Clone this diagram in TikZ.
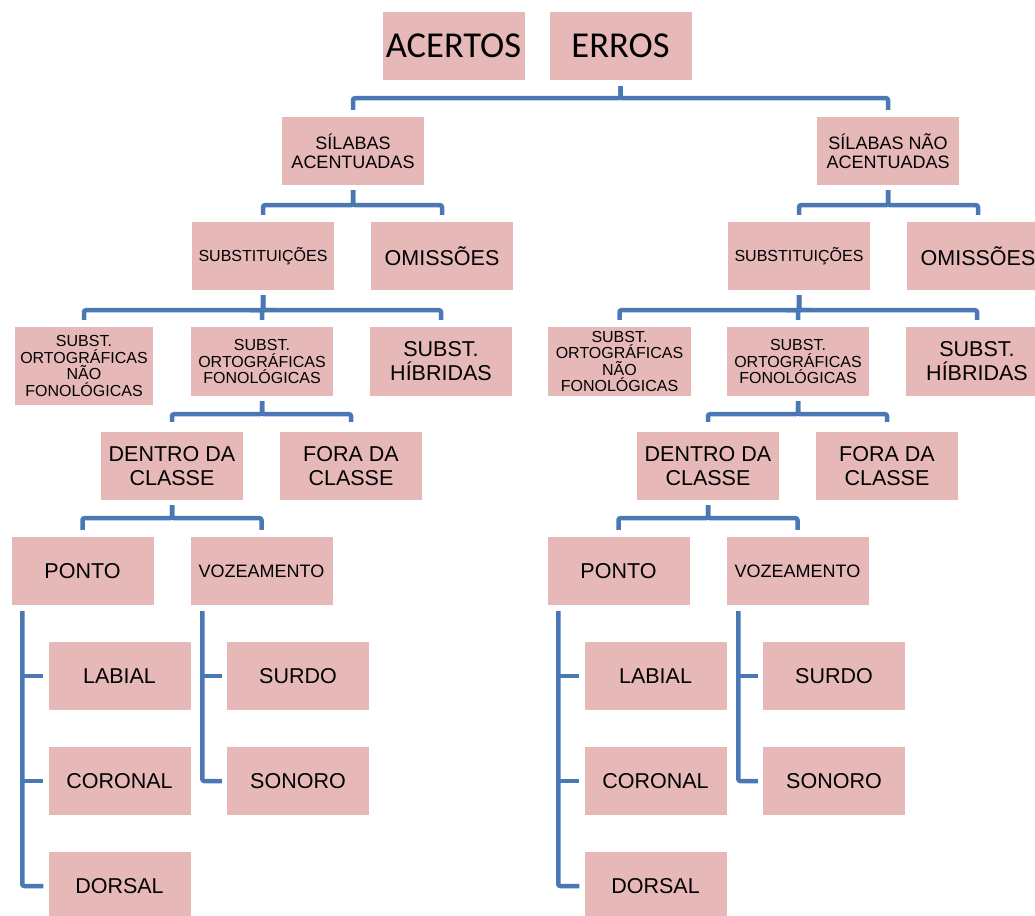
\documentclass[tikz,border=0pt]{standalone}
\usepackage{fontspec}
\setmainfont{Liberation Sans}
\newfontfamily\calibrifont{Carlito}
\usetikzlibrary{positioning,calc}
\definecolor{boxpink}{HTML}{E6B9B8}
\definecolor{busblue}{HTML}{4A78B4}

\begin{document}
\begin{tikzpicture}[
    x=1pt, y=-1pt,
    box/.style={
        fill=boxpink,
        draw=none,
        inner sep=0pt,
        minimum width=142pt,
        minimum height=68pt,
        align=center
    },
    hugetext/.style={font=\calibrifont\fontsize{36.5}{40}\selectfont},
    bigtext/.style={font=\fontsize{21.5}{24}\selectfont},
    midtext/.style={font=\fontsize{18}{19}\selectfont},
    smalltext/.style={font=\fontsize{16}{16.6}\selectfont},
    bus/.style={draw=busblue, line width=4.5pt, rounded corners=2pt}
]
    \useasboundingbox (0,0) rectangle (1035,915);

    % Top row
    \node[box, hugetext] (acertos) at (453.5,46) {ACERTOS};
    \node[box, hugetext] (erros) at (620.5,46) {ERROS};

    % Left side: stressed syllables
    \node[box, midtext] (saL) at (353,151) {SÍLABAS\\ACENTUADAS};
    \node[box, smalltext] (subL) at (263,256) {SUBSTITUIÇÕES};
    \node[box, bigtext] (omL) at (442,256) {OMISSÕES};
    \node[box, smalltext, minimum width=138pt, minimum height=78pt] (snfL) at (84,366) {SUBST.\\ORTOGRÁFICAS\\NÃO\\FONOLÓGICAS};
    \node[box, smalltext, minimum height=69pt] (sfL) at (262,361.5) {SUBST.\\ORTOGRÁFICAS\\FONOLÓGICAS};
    \node[box, bigtext, minimum height=69pt] (shL) at (441,361.5) {SUBST.\\HÍBRIDAS};
    \node[box, bigtext] (dcL) at (172,466) {DENTRO DA\\CLASSE};
    \node[box, bigtext] (fcL) at (351,466) {FORA DA\\CLASSE};
    \node[box, bigtext] (pontoL) at (82.5,571) {PONTO};
    \node[box, midtext] (vozL) at (261.5,571) {VOZEAMENTO};
    \node[box, bigtext] (labL) at (119.5,676) {LABIAL};
    \node[box, bigtext] (corL) at (119.5,781) {CORONAL};
    \node[box, bigtext] (dorL) at (119.5,886) {DORSAL};
    \node[box, bigtext] (surL) at (298,676) {SURDO};
    \node[box, bigtext] (sonL) at (298,781) {SONORO};

    % Right side: unstressed syllables
    \begin{scope}[xshift=536pt]
        \node[box, midtext] (saR) at (352,151) {SÍLABAS NÃO\\ACENTUADAS};
        \node[box, smalltext] (subR) at (263,256) {SUBSTITUIÇÕES};
        \node[box, bigtext] (omR) at (442,256) {OMISSÕES};
        \node[box, smalltext, minimum width=143pt, minimum height=69pt] (snfR) at (83.5,361.5) {SUBST.\\ORTOGRÁFICAS\\NÃO\\FONOLÓGICAS};
        \node[box, smalltext, minimum height=69pt] (sfR) at (262,361.5) {SUBST.\\ORTOGRÁFICAS\\FONOLÓGICAS};
        \node[box, bigtext, minimum height=69pt] (shR) at (441,361.5) {SUBST.\\HÍBRIDAS};
        \node[box, bigtext] (dcR) at (172,466) {DENTRO DA\\CLASSE};
        \node[box, bigtext] (fcR) at (351,466) {FORA DA\\CLASSE};
        \node[box, bigtext] (pontoR) at (82.5,571) {PONTO};
        \node[box, midtext] (vozR) at (261.5,571) {VOZEAMENTO};
        \node[box, bigtext] (labR) at (119.5,676) {LABIAL};
        \node[box, bigtext] (corR) at (119.5,781) {CORONAL};
        \node[box, bigtext] (dorR) at (119.5,886) {DORSAL};
        \node[box, bigtext] (surR) at (298,676) {SURDO};
        \node[box, bigtext] (sonR) at (298,781) {SONORO};
    \end{scope}

    % Bus from the top
    \foreach \c in {saL,saR}
        \draw[bus] ([yshift=-6pt]erros.south) -- ++(0,12) -| ([yshift=7pt]\c.north);

    % Buses on both sides
    \foreach \s in {L,R} {
        \foreach \c in {sub\s,om\s}
            \draw[bus] ([yshift=-5pt]sa\s.south) -- ++(0,15) -| ([yshift=7pt]\c.north);
        \foreach \c in {snf\s,sf\s,sh\s}
            \draw[bus] ([yshift=-5pt]sub\s.south) -- ++(0,15) -| ([yshift=7pt]\c.north);
        \foreach \c in {dc\s,fc\s}
            \draw[bus] ([yshift=-5pt]sf\s.south) -- ++(0,13) -| ([yshift=10pt]\c.north);
        \foreach \c in {ponto\s,voz\s}
            \draw[bus] ([yshift=-5pt]dc\s.south) -- ++(0,13) -| ([yshift=7pt]\c.north);

        % Side bars
        \coordinate (p\s) at ([xshift=11pt,yshift=-6pt]ponto\s.south west);
        \draw[bus] (p\s) |- ([xshift=-5pt]dor\s.west);
        \foreach \c in {lab\s,cor\s}
            \draw[bus] (p\s |- \c.west) -- ([xshift=-5pt]\c.west);

        \coordinate (v\s) at ([xshift=12pt,yshift=-6pt]voz\s.south west);
        \draw[bus] (v\s) |- ([xshift=-5pt]son\s.west);
        \draw[bus] (v\s |- sur\s.west) -- ([xshift=-5pt]sur\s.west);
    }
\end{tikzpicture}
\end{document}
